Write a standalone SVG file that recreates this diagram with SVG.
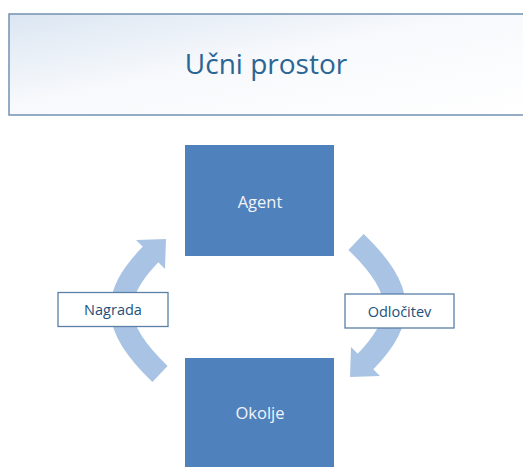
<svg xmlns="http://www.w3.org/2000/svg" width="523" height="467" viewBox="0 0 523 467">
  <defs>
    <linearGradient id="titleFill" x1="0" y1="0" x2="1" y2="1">
      <stop offset="0" stop-color="#dbe6f2"/>
      <stop offset="0.45" stop-color="#f7f9fc"/>
      <stop offset="1" stop-color="#ffffff"/>
    </linearGradient>
    <!-- curved block arrow, drawn for the left side; the right one is the same shape turned half a circle -->
    <g id="cycleArrow">
      <path d="M160,374 C110,326 110,296 151,254" fill="none" stroke="#a9c3e4" stroke-width="22"/>
      <polygon points="136,240 166,239 165,269" fill="#a9c3e4"/>
    </g>
    <style>
      .box { fill: #4f81bd; }
      .boxText { font-family: "Open Sans", "Liberation Sans", sans-serif; font-size: 16.5px; fill: #f2f4f8; text-anchor: middle; }
      .label { fill: #ffffff; stroke: #5a80a8; stroke-width: 1.3; }
      .labelText { font-family: "Open Sans", "Liberation Sans", sans-serif; font-size: 14.5px; fill: #22507a; text-anchor: middle; }
      .title { font-family: "Open Sans", "Liberation Sans", sans-serif; font-size: 28px; fill: #2b6594; text-anchor: middle; }
    </style>
  </defs>

  <rect width="523" height="467" fill="#ffffff"/>

  <!-- heading panel -->
  <g id="title">
    <rect x="9" y="14" width="520" height="101" fill="url(#titleFill)" stroke="#7391b3" stroke-width="1.5"/>
    <text class="title" x="266" y="73.5">Učni prostor</text>
  </g>

  <!-- connectors -->
  <g id="connectors">
    <use href="#cycleArrow"/>
    <use href="#cycleArrow" transform="rotate(180 258 308)"/>
  </g>

  <g id="agent">
    <rect class="box" x="185" y="145" width="149" height="111"/>
    <text class="boxText" x="260" y="208">Agent</text>
  </g>

  <g id="okolje">
    <rect class="box" x="185" y="358" width="149" height="112"/>
    <text class="boxText" x="260" y="419">Okolje</text>
  </g>

  <g id="nagrada">
    <rect class="label" x="58" y="292.5" width="110" height="34"/>
    <text class="labelText" x="113" y="315">Nagrada</text>
  </g>

  <g id="odlocitev">
    <rect class="label" x="345" y="294" width="109" height="34"/>
    <text class="labelText" x="399.5" y="316.5">Odločitev</text>
  </g>
</svg>
